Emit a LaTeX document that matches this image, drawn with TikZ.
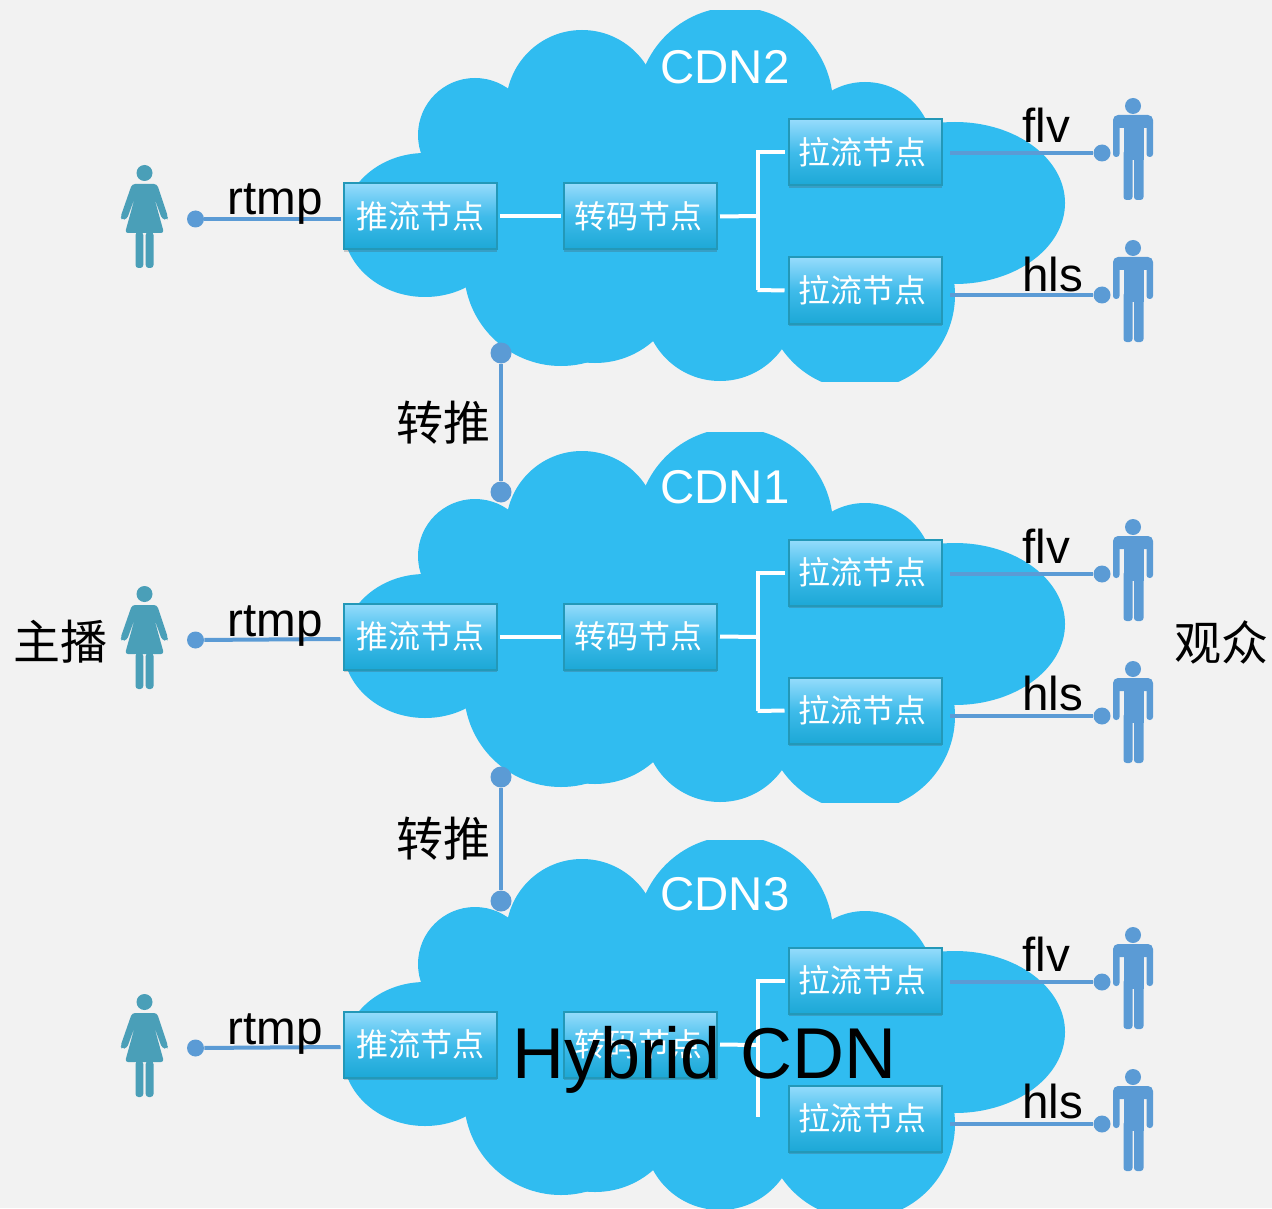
\documentclass[tikz,border=0pt]{standalone}
\usepackage{fontspec}
\setmainfont{Liberation Sans}
\newfontfamily\cjk{Noto Sans CJK SC}
\usetikzlibrary{shadows,calc}
\definecolor{bgc}{HTML}{F2F2F2}
\definecolor{cloudc}{HTML}{30BCF0}
\definecolor{linkc}{HTML}{5B9BD5}
\definecolor{femc}{HTML}{4A9FB8}
\definecolor{boxtop}{HTML}{96DCFC}
\definecolor{boxmid}{HTML}{3FBBEA}
\definecolor{boxbot}{HTML}{1CA8D6}
\definecolor{boxedge}{HTML}{2398B8}
\newcommand{\fs}[1]{\fontsize{#1}{#1}\selectfont}
\tikzset{
  x=0.5pt,y=-0.5pt,
  procbox/.style={rectangle,draw=boxedge,line width=1pt,minimum width=76.5pt,minimum height=33pt,inner sep=0pt,
    top color=boxtop,bottom color=boxbot,middle color=boxmid,text=white,
    drop shadow={shadow xshift=0pt,shadow yshift=-1.2pt,opacity=.25,fill=black!70},
    font=\cjk\fs{16}},
  lbl/.style={inner sep=0pt,font=\fs{23.8},text=black},
  cdnlbl/.style={inner sep=0pt,font=\fs{23.7},text=white,anchor=base west},
  cjklbl/.style={inner sep=0pt,font=\cjk\fs{23.5},text=black},
  wire/.style={draw=white,line width=2pt,line cap=butt},
  link/.style={draw=linkc,line width=2pt},
  dotn/.style={circle,fill=linkc,inner sep=0pt,minimum size=8.5pt},
  bigdot/.style={circle,fill=linkc,inner sep=0pt,minimum size=10.5pt},
}
\newcommand{\cloudshape}{%
  \begin{scope}
    \clip (300,11) rectangle (1100,381);
    \fill[cloudc] (735,105) circle[radius=98];
    \fill[cloudc] (582,106) circle[radius=76];
    \fill[cloudc] (475,135) circle[radius=57];
    \fill[cloudc] (425,225) ellipse[x radius=82,y radius=72];
    \fill[cloudc] (561,269) circle[radius=97];
    \fill[cloudc] (595,275) circle[radius=88];
    \fill[cloudc] (720,305) circle[radius=76];
    \fill[cloudc] (860,295) circle[radius=95];
    \fill[cloudc] (955,203) ellipse[x radius=110,y radius=81];
    \fill[cloudc] (865,150) circle[radius=68];
    \fill[cloudc] (470,120) rectangle (900,300);
  \end{scope}}
\newcommand{\femalefig}{%
  \fill[femc] (144.5,173) circle[radius=8];
  \fill[femc,rounded corners=1.5pt] (132,184) -- (157,184) -- (168,217) -- (167,220) -- (162,219) -- (154,197) -- (164,233) -- (125,233) -- (135,197) -- (127,219) -- (122,220) -- (120.5,217) -- cycle;
  \fill[femc,rounded corners=1.5pt] (135.5,232) rectangle (143.3,268);
  \fill[femc,rounded corners=1.5pt] (145.7,232) rectangle (153.5,268);}
\newcommand{\malefig}{%
  \fill[linkc] (1133,106) circle[radius=8];
  \fill[linkc,rounded corners=2.5pt] (1113,128) -- (1113,115) -- (1153,115) -- (1153,128) -- cycle;
  \fill[linkc,rounded corners=1.5pt] (1113,120) rectangle (1119.5,157);
  \fill[linkc,rounded corners=1.5pt] (1146.5,120) rectangle (1153,157);
  \fill[linkc] (1123.5,118) rectangle (1143.5,160);
  \fill[linkc,rounded corners=1.5pt] (1123.5,150) rectangle (1132.5,200);
  \fill[linkc,rounded corners=1.5pt] (1134,150) rectangle (1143.5,200);}
\begin{document}
\begin{tikzpicture}
\useasboundingbox (0,0) rectangle (1272,1208);
\fill[bgc] (0,0) rectangle (1272,1208);
% clouds
\begin{scope}[shift={(0,0)}]\cloudshape\end{scope}
\begin{scope}[shift={(0,421)}]\cloudshape\end{scope}
\begin{scope}[shift={(0,829)}]\cloudshape\end{scope}
% cdn blocks: name / offset / title / title baseline / flv baseline / hls baseline / lower branch end / box shift
\foreach \n/\o/\t/\cy/\fy/\hy/\je/\bs in {a/0/CDN2/84/143/292/290/0,b/421/CDN1/82/142/289/290/-1,c/829/CDN3/81/142/289/288/-1}{
  \begin{scope}[shift={(0,\o)}]
    \node[cdnlbl] (cdn\n) at (660,\cy) {\t};
    \node[procbox] (push\n) at (420,216.5+\bs) {推流节点};
    \node[procbox] (code\n) at (640.5,216.5+\bs) {\hspace*{-2pt}转码节点};
    \node[procbox] (pulla\n) at (865,152.5+\bs) {\hspace*{-3pt}拉流节点};
    \node[procbox] (pullb\n) at (865,290.5+\bs) {\hspace*{-3pt}拉流节点};
    \coordinate (j\n) at (757.5,216);
    \coordinate (jb\n) at (757.5,\je);
    \coordinate (fa\n) at (950,153);
    \coordinate (fb\n) at (950,295);
    \node[dotn] (hl\n) at (195.5,219) {};
    \node[dotn] (da\n) at (1102,153) {};
    \node[dotn] (db\n) at (1102,295) {};
    \draw[wire] ($(code\n.east)+(2,0)$) -- (j\n);
    \draw[wire] ($(pulla\n.west)+(-3,0)$) -| (jb\n);
    \draw[link] (hl\n) -- ($(push\n.west)+(-2,2.5)$);
    \draw[link] (fa\n) -- (da\n);
    \draw[link] (fb\n) -- (db\n);
    \node[lbl,anchor=base] (rtmp\n) at (275,215) {rtmp};
    \node[lbl,anchor=base west] (flv\n) at (1022,\fy) {flv};
    \node[lbl,anchor=base west] (hls\n) at (1022,\hy) {hls};
    \femalefig
    \malefig
    \begin{scope}[shift={(0,142)}]\malefig\end{scope}
  \end{scope}
}
% push-to-transcode wires (absent in CDN3) and lower branch stubs (absent in CDN3)
\draw[wire] ($(pusha.east)+(2,0)$) -- ($(codea.west)+(-2,0)$);
\draw[wire] ($(pushb.east)+(2,0)$) -- ($(codeb.west)+(-2,0)$);
\draw[wire] (jba) -- ($(pullba.west)+(-3,0)$);
\draw[wire] (jbb) -- ($(pullbb.west)+(-3,0)$);
% relay links
\node[bigdot] (ua) at (501,353) {};
\node[bigdot] (ub) at (501,492) {};
\node[bigdot] (uc) at (501,777) {};
\node[bigdot] (ud) at (501,901) {};
\draw[link] (ua) -- (ub);
\draw[link] (uc) -- (ud);
\node[cjklbl] (relayone) at (443,423) {转推};
\node[cjklbl] (relaytwo) at (443,839) {转推};
\node[cjklbl] (anchorlbl) at (60,642) {主播};
\node[cjklbl] (viewerlbl) at (1221,642) {观众};
\node[inner sep=0pt,font=\fs{36},text=black,anchor=base west] (hybrid) at (512,1078) {Hybrid CDN};
\end{tikzpicture}
\end{document}
